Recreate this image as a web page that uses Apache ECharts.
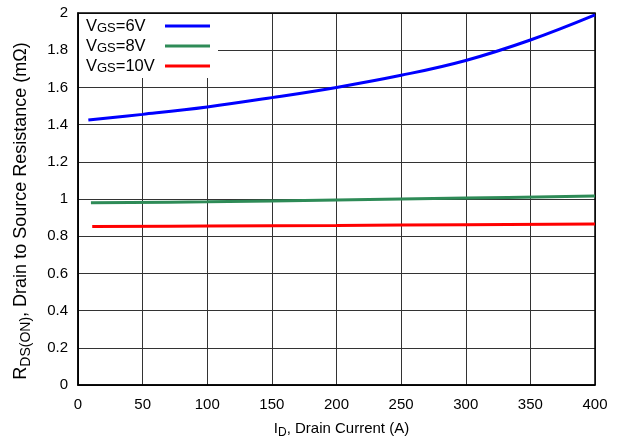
<!DOCTYPE html>
<html>
<head>
<meta charset="utf-8">
<script src="https://cdn.jsdelivr.net/npm/echarts@6/dist/echarts.min.js"></script>
<style>
  html, body { margin: 0; padding: 0; background: #fff; }
  #chart { width: 621px; height: 444px; }
</style>
</head>
<body>
<div id="chart"></div>
<script>
// Drain current (A) sample points and on-resistance (mΩ) per gate voltage
const idVgs6 = [8, 50, 100, 150, 200, 250, 300, 350, 400];
const rdsVgs6 = [1.425, 1.455, 1.495, 1.545, 1.600, 1.665, 1.745, 1.855, 1.99];

const idVgs8 = [10, 100, 200, 300, 400];
const rdsVgs8 = [0.98, 0.985, 0.995, 1.005, 1.016];

const idVgs10 = [11, 100, 200, 300, 400];
const rdsVgs10 = [0.852, 0.855, 0.858, 0.862, 0.866];

const seriesNames = ['VGS=6V', 'VGS=8V', 'VGS=10V'];
const legendLabels = {
  'VGS=6V': '{v|V}{s|GS}{v|=6V}',
  'VGS=8V': '{v|V}{s|GS}{v|=8V}',
  'VGS=10V': '{v|V}{s|GS}{v|=10V}'
};
const colors = ['#0000ff', '#2e8b57', '#ff0000'];

const xTicks = { min: 0, max: 400, interval: 50 };
const yTicks = { min: 0, max: 2, interval: 0.2 };

const pair = (xs, ys) => xs.map((x, i) => [x, ys[i]]);

const font = 'Liberation Sans, Arial, Helvetica, sans-serif';
const gridColor = '#333';

const chart = echarts.init(document.getElementById('chart'), null, { renderer: 'canvas' });
chart.setOption({
  animation: false,
  backgroundColor: '#fff',
  grid: { left: 78, right: 26, top: 13, bottom: 56, containLabel: false },
  legend: {
    orient: 'vertical',
    left: 79,
    top: 14,
    align: 'right',
    backgroundColor: '#fff',
    padding: [1, 8, 3, 7],
    itemGap: 0,
    itemWidth: 45,
    itemHeight: 3,
    icon: 'rect',
    data: seriesNames,
    formatter: name => legendLabels[name],
    textStyle: {
      width: 74,
      fontFamily: font,
      fontSize: 16.5,
      color: '#000',
      rich: {
        v: { fontFamily: font, fontSize: 16.5, color: '#000', align: 'left', lineHeight: 18 },
        s: { fontFamily: font, fontSize: 13, color: '#000', align: 'left', verticalAlign: 'bottom', padding: [7, 0, 0, 0], lineHeight: 11 }
      }
    }
  },
  xAxis: {
    type: 'value',
    min: xTicks.min, max: xTicks.max, interval: xTicks.interval,
    name: '{v|I}{s|D}{v|, Drain Current (A)}',
    nameLocation: 'middle',
    nameGap: 34,
    nameTextStyle: {
      fontFamily: font, fontSize: 15, color: '#000',
      padding: [0, 0, 0, 10],
      rich: {
        v: { fontFamily: font, fontSize: 15, color: '#000' },
        s: { fontFamily: font, fontSize: 12, color: '#000', padding: [8, 0, 0, 0] }
      }
    },
    axisLine: { show: true, lineStyle: { color: '#000', width: 1.5 } },
    axisTick: { show: false },
    axisLabel: { fontFamily: font, fontSize: 15, color: '#000', margin: 12 },
    splitLine: { show: true, lineStyle: { color: gridColor, width: 1 } }
  },
  yAxis: {
    type: 'value',
    min: yTicks.min, max: yTicks.max, interval: yTicks.interval,
    name: '{v|R}{s|DS(ON)}{v|, Drain to Source Resistance (mΩ)}',
    nameLocation: 'middle',
    nameGap: 45,
    nameTextStyle: {
      fontFamily: font, fontSize: 18, color: '#000',
      padding: [0, 24, 0, 0],
      rich: {
        v: { fontFamily: font, fontSize: 18, color: '#000' },
        s: { fontFamily: font, fontSize: 14, color: '#000', padding: [9, 0, 0, 0] }
      }
    },
    axisLine: { show: true, lineStyle: { color: '#000', width: 1.5 } },
    axisTick: { show: false },
    axisLabel: {
      fontFamily: font, fontSize: 15, color: '#000', margin: 10,
      formatter: v => String(Math.round(v * 10) / 10)
    },
    splitLine: { show: true, lineStyle: { color: gridColor, width: 1 } }
  },
  series: [
    { name: seriesNames[0], type: 'line', data: pair(idVgs6, rdsVgs6) },
    { name: seriesNames[1], type: 'line', data: pair(idVgs8, rdsVgs8) },
    { name: seriesNames[2], type: 'line', data: pair(idVgs10, rdsVgs10) }
  ].map((s, i) => Object.assign(s, {
    smooth: 0.4,
    showSymbol: false,
    symbol: 'none',
    color: colors[i],
    lineStyle: { color: colors[i], width: 3 },
    z: 3
  }))
});

// Frame the plot area on all four sides
const rect = chart.getModel().getComponent('grid').coordinateSystem.getRect();
chart.setOption({
  graphic: [{
    type: 'rect',
    shape: { x: rect.x, y: rect.y, width: rect.width, height: rect.height },
    style: { fill: 'none', stroke: '#000', lineWidth: 1.5 },
    silent: true,
    z: 1
  }]
});
</script>
</body>
</html>
